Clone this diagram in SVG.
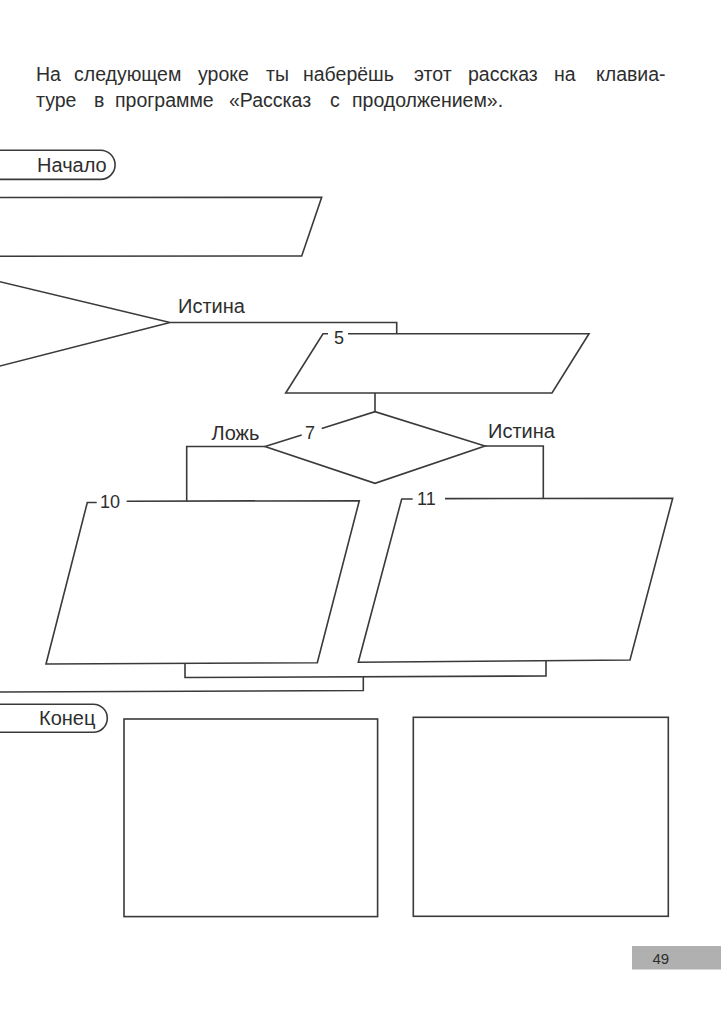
<svg xmlns="http://www.w3.org/2000/svg" width="721" height="1024" viewBox="0 0 721 1024">
<style>
.s{fill:none;stroke:#3a3a3a;stroke-width:1.6;stroke-linejoin:miter}
.t{font-family:"Liberation Sans",Arial,sans-serif;fill:#2e2e2e}
.body{font-size:19.5px}
.lbl{font-size:20px}
.num{font-size:18px}
</style>
<rect width="721" height="1024" fill="#ffffff"/>
<g id="intro">
<text class="t body" y="81"><tspan x="36">На</tspan><tspan x="74">следующем</tspan><tspan x="198">уроке</tspan><tspan x="266">ты</tspan><tspan x="303">наберёшь</tspan><tspan x="414">этот</tspan><tspan x="468">рассказ</tspan><tspan x="554">на</tspan><tspan x="596">клавиа-</tspan></text>
<text class="t body" y="107"><tspan x="36">туре</tspan><tspan x="94">в</tspan><tspan x="115">программе</tspan><tspan x="229">«Рассказ</tspan><tspan x="330">с</tspan><tspan x="352">продолжением».</tspan></text>
</g>
<g id="start">
<path class="s" d="M -5 150.2 H 100.5 A 14.6 14.6 0 0 1 100.5 179.4 H -5"/>
<text class="t lbl" x="37" y="172">Начало</text>
</g>
<g id="io1">
<path class="s" d="M -5 197.5 L 321.7 197.3 L 301.7 256 L -5 256.2"/>
</g>
<g id="decision1">
<path class="s" d="M -5 280.5 L 170 322.5 L -5 367.3"/>
</g>
<g id="io5">
<path class="s" d="M 328 333.7 H 323 L 285.7 393 H 552 L 589 333.7 H 348"/>
<text class="t num" x="334" y="343.5">5</text>
</g>
<g id="decision7">
<path class="s" d="M 301.7 434.9 L 265 446.5 L 375 483.3 L 485 446 L 375 411.7 L 321.7 428.6"/>
<text class="t num" x="305" y="439">7</text>
</g>
<g id="io10">
<path class="s" d="M 96.7 502.5 H 87.3 L 46 664 L 317.3 662.7 L 359.3 500.7 L 126.7 501.2"/>
<text class="t num" x="100" y="508">10</text>
</g>
<g id="io11">
<path class="s" d="M 412.7 499 H 401.7 L 358.3 662.3 L 630 660 L 672.7 498.3 L 445 498.6"/>
<text class="t num" x="417" y="505">11</text>
</g>
<g id="end">
<path class="s" d="M -5 704.2 H 93.3 A 14 14 0 0 1 93.3 732.2 H -5"/>
<text class="t lbl" x="39" y="724.5">Конец</text>
</g>
<g id="box1">
<rect class="s" x="124" y="719" width="253.6" height="197.6"/>
</g>
<g id="box2">
<rect class="s" x="413.3" y="717.3" width="255" height="199"/>
</g>
<g id="connectors">
<path class="s" d="M 170 322.5 H 396.7 V 333.7"/>
<path class="s" d="M 375 393 V 411.7"/>
<path class="s" d="M 265 446.5 H 186.7 V 501.5"/>
<path class="s" d="M 485 446 H 543.3 V 498.6"/>
<path class="s" d="M 185 663.9 V 677.5 L 546 676 V 660.3"/>
<path class="s" d="M 363.3 676.8 V 690.5 L -5 692"/>
<text class="t lbl" x="178" y="313">Истина</text>
<text class="t lbl" x="211.5" y="440">Ложь</text>
<text class="t lbl" x="488" y="437.5">Истина</text>
</g>
<g id="page">
<rect x="632" y="946" width="89" height="23.5" fill="#b0b0b0"/>
<text class="t" x="652.5" y="964.3" font-size="15">49</text>
</g>
</svg>
